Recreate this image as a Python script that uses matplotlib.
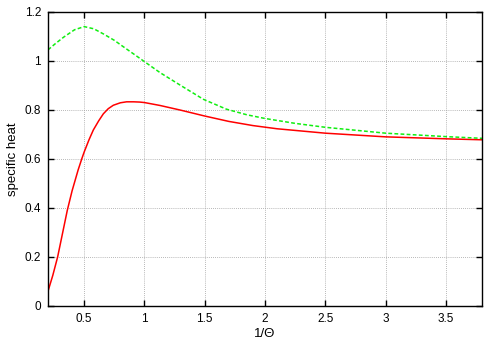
import matplotlib
matplotlib.use("Agg")
import matplotlib.pyplot as plt

plt.rcParams["font.family"] = ["Liberation Sans", "DejaVu Sans"]

# values
red_x = [0.20, 0.24, 0.28, 0.32, 0.36, 0.40, 0.45, 0.48, 0.50, 0.54, 0.576, 0.62,
         0.659, 0.70, 0.742, 0.80, 0.852, 0.91, 0.96, 1.00, 1.13, 1.30, 1.50, 1.70,
         1.90, 2.10, 2.50, 3.00, 3.50, 3.80]
red_y = [0.060, 0.125, 0.200, 0.295, 0.390, 0.470, 0.555, 0.600, 0.628, 0.678, 0.718, 0.755,
         0.784, 0.805, 0.819, 0.829, 0.833, 0.833, 0.832, 0.830, 0.818, 0.799, 0.775, 0.753,
         0.736, 0.723, 0.705, 0.690, 0.682, 0.678]

green_x = [0.20, 0.26, 0.33, 0.42, 0.50, 0.58, 0.66, 0.75, 0.83, 0.92, 1.00,
           1.13, 1.30, 1.49, 1.68, 1.85, 2.00, 2.25, 2.50, 3.00, 3.50, 3.80]
green_y = [1.045, 1.070, 1.097, 1.127, 1.140, 1.131, 1.110, 1.084, 1.056, 1.025, 0.997,
           0.952, 0.900, 0.843, 0.803, 0.780, 0.765, 0.745, 0.729, 0.705, 0.691, 0.684]

x_ticks = [0.5, 1, 1.5, 2, 2.5, 3, 3.5]
x_tick_labels = ["0.5", "1", "1.5", "2", "2.5", "3", "3.5"]
y_ticks = [0, 0.2, 0.4, 0.6, 0.8, 1.0, 1.2]
y_tick_labels = ["0", "0.2", "0.4", "0.6", "0.8", "1", "1.2"]

fig = plt.figure(figsize=(5, 3.5), dpi=100)
ax = fig.add_axes([0.096, 0.126, 0.868, 0.840])

ax.plot(red_x, red_y, color="#ff0000", lw=1.1)
ax.plot(green_x, green_y, color="#11ee11", lw=1.1, dashes=(2.5, 1.5))

ax.set_xlim(0.2, 3.8)
ax.set_ylim(0, 1.2)
ax.set_xticks(x_ticks)
ax.set_xticklabels(x_tick_labels)
ax.set_yticks(y_ticks)
ax.set_yticklabels(y_tick_labels)

ax.grid(True, color="#a0a0a0", linestyle=(0, (1, 1.5)), lw=0.6)
ax.tick_params(direction="in", top=True, right=True, length=4, width=1,
               labelsize=8.5, colors="black", pad=5)
for s in ax.spines.values():
    s.set_linewidth(1)

ax.set_xlabel("1/Θ", fontsize=9.5, labelpad=2)
ax.set_ylabel("specific heat", fontsize=9.5, labelpad=4)

fig.savefig("out.png", dpi=100, facecolor="white")
